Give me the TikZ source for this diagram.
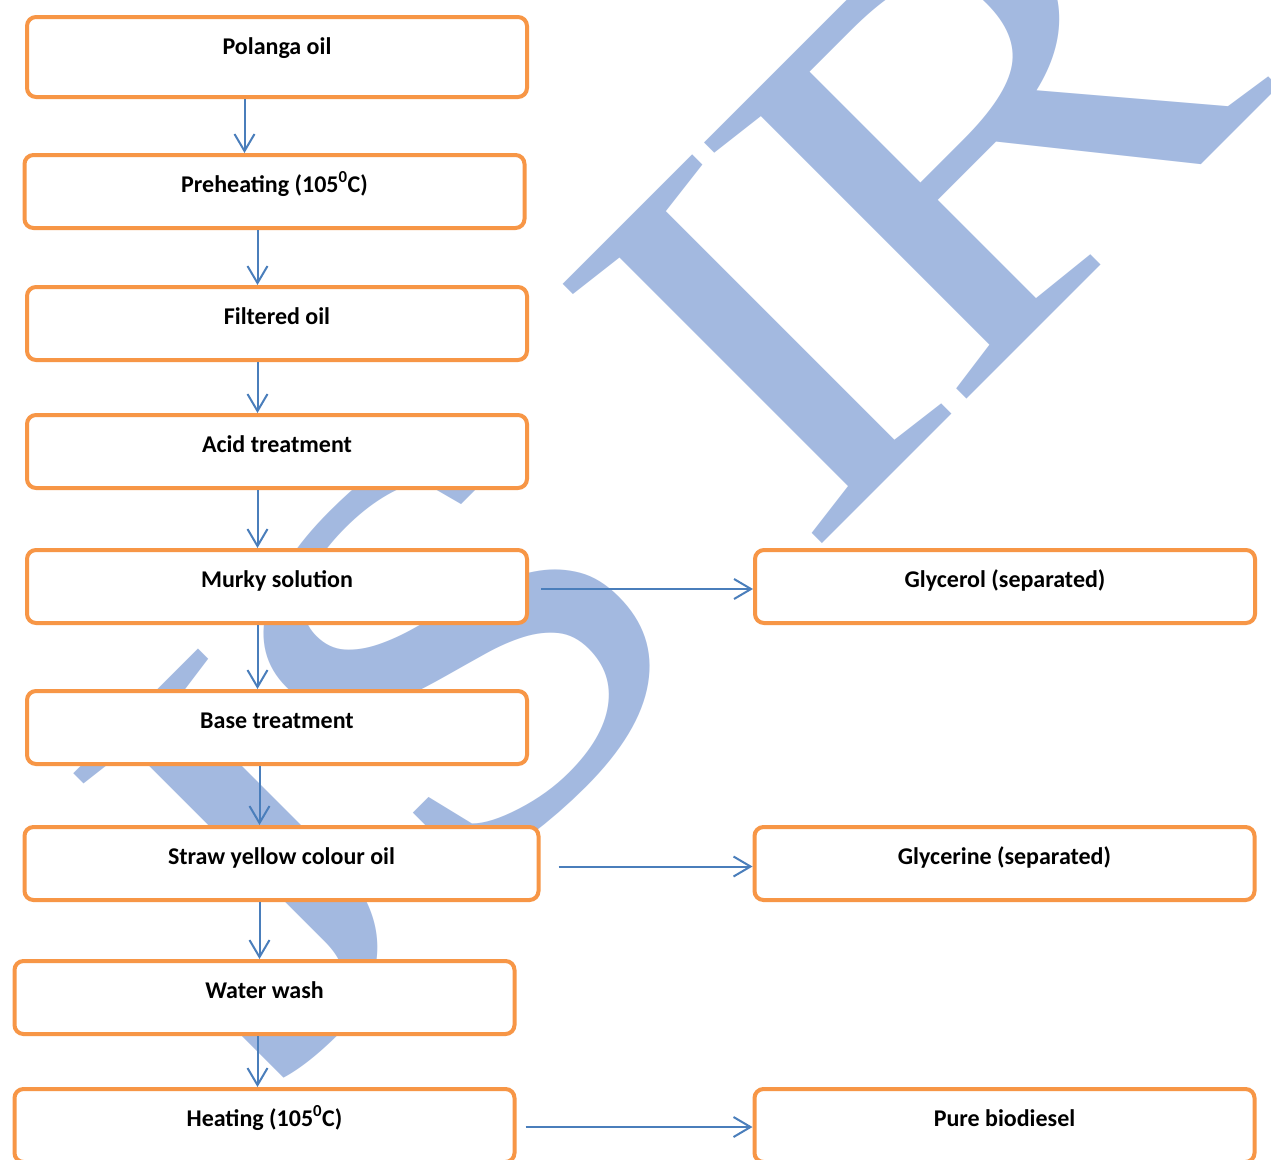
\documentclass[tikz,border=0pt]{standalone}
\usepackage{fontspec}
\setmainfont{Carlito}
\newfontfamily\markfont{Liberation Serif}
\usetikzlibrary{arrows.meta, positioning}
\definecolor{boxorange}{HTML}{F79646}
\definecolor{flowblue}{HTML}{4A7EBB}
\definecolor{markblue}{HTML}{A3B9E0}
\tikzset{
	font={\bfseries\fontsize{24}{28}\selectfont}}
\tikzstyle{stepbox} = [rectangle, rounded corners=9pt, draw=boxorange, line width=4pt, fill=white, minimum width=500pt, inner xsep=0pt, inner ysep=0pt, text height=37pt, text depth=36pt]
\tikzstyle{wmletter} = [text=markblue, font={\markfont\fontsize{560}{560}\selectfont}, inner sep=0pt, anchor=base, rotate=45, xscale=1.25]
\tikzstyle{flow} = [line width=2pt, draw=flowblue, -{Straight Barb[length=17pt,width=20pt]}]

\begin{document}
\begin{tikzpicture}[x=1pt, y=-1pt]

\useasboundingbox (0,0) rectangle (1271,1159);
\clip (0,0) rectangle (1271,1159);
\fill[white] (0,0) rectangle (1271,1159);

% Wasserzeichen
\foreach \ch/\u in {J/-440, S/-135, I/288, R/610}
	\node[wmletter] (wm\ch) at ({0.7071*\u+683},{683-0.7071*\u}) {\ch};

% linke Spalte
\node[stepbox, text depth=43pt, anchor=north west] (polanga) at (25,15) {Polanga oil};
\node[stepbox, below=54pt of polanga, xshift=-2.5pt] (preheat) {Preheating (105\textsuperscript{0}C)};
\node[stepbox, below=55pt of preheat, xshift=2.5pt] (filtered) {Filtered oil};
\node[stepbox, below=51pt of filtered] (acid) {Acid treatment};
\node[stepbox, below=58pt of acid] (murky) {Murky solution};
\node[stepbox, below=64pt of murky] (base) {Base treatment};
\node[stepbox, minimum width=514pt, below=59pt of base, xshift=4.5pt] (straw) {Straw yellow colour oil};
\node[stepbox, below=57pt of straw, xshift=-17pt] (wash) {Water wash};
\node[stepbox, below=51pt of wash] (heating) {Heating (105\textsuperscript{0}C)};
% rechte Spalte
\node[stepbox, right=224pt of murky] (glycerol) {Glycerol (separated)};
\node[stepbox, right=212pt of straw] (glycerine) {Glycerine (separated)};
\node[stepbox, right=236pt of heating] (pure) {Pure biodiesel};

\foreach \from/\to/\dx in {polanga/preheat/-32.5, preheat/filtered/-17, filtered/acid/-19.5, acid/murky/-19.5, murky/base/-19.5, base/straw/-17.5, straw/wash/-22, wash/heating/-7}
	\draw[flow] ([xshift=\dx pt]\from.south) -- ([xshift=\dx pt]\from.south |- \to.north);

\draw[flow, shorten <=12pt] ([yshift=-2.5pt]murky.east) -- ([yshift=-2.5pt]murky.east -| glycerol.west);
\draw[flow, shorten <=18pt] ([yshift=-3pt]straw.east) -- ([yshift=-3pt]straw.east -| glycerine.west);
\draw[flow, shorten <=9pt] ([yshift=-1.5pt]heating.east) -- ([yshift=-1.5pt]heating.east -| pure.west);

\end{tikzpicture}
\end{document}
